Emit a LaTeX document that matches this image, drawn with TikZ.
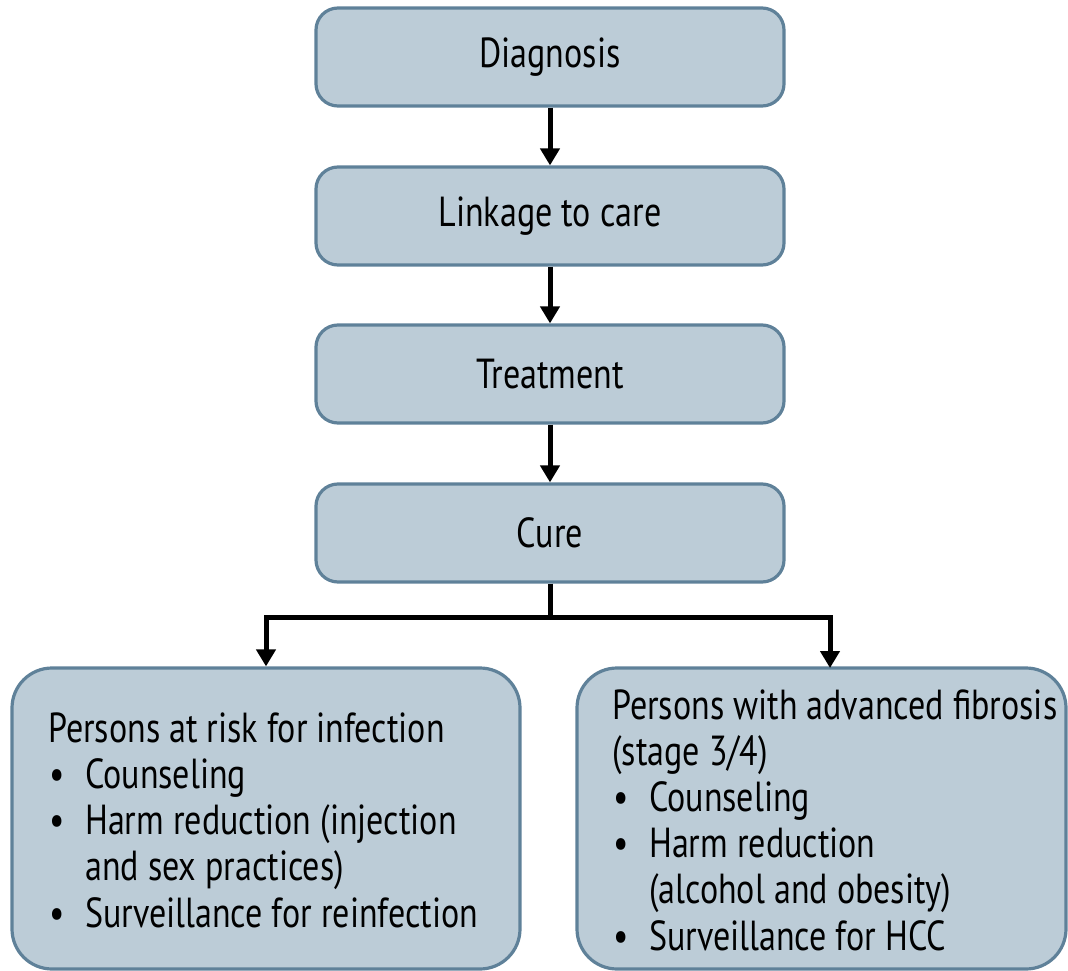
\documentclass[tikz,border=0pt]{standalone}
\usepackage{fontspec}
\setmainfont{PT Sans}[FakeStretch=0.81]
\usetikzlibrary{arrows.meta,calc}
\definecolor{boxfill}{HTML}{BCCCD7}
\definecolor{boxline}{HTML}{5F8199}
\tikzset{
  stepbox/.style={draw=boxline, fill=boxfill, line width=3.2pt, rounded corners=22pt,
    minimum width=468pt, minimum height=98pt, inner sep=0pt,
    font=\fontsize{42}{46}\selectfont},
  bigbox/.style={draw=boxline, fill=boxfill, line width=3.2pt, rounded corners=40pt,
    minimum height=301pt, inner sep=0pt},
  bodytext/.style={align=left, inner sep=0pt, anchor=west,
    font=\fontsize{42}{46.2}\selectfont},
  conn/.style={line width=5pt, black},
  arr/.style={conn, -{Triangle[width=19pt,length=17pt]}},
}
\newcommand{\bul}{\makebox[37pt][l]{\hspace*{1pt}•}}
\newcommand{\ind}{\hspace*{37pt}}
\begin{document}
\begin{tikzpicture}[x=1pt,y=-1pt]
\useasboundingbox (0,0) rectangle (1068,971);
\node[stepbox] (diag) at (550,57) {Diagnosis};
\node[stepbox] (link) at (550,216) {Linkage to care};
\node[stepbox] (treat) at (550,374) {Treatment};
\node[stepbox] (cure) at (550,533) {Cure};
\node[bigbox, minimum width=508pt] (left) at (266,818.5) {};
\node[bigbox, minimum width=489pt] (right) at (821.5,818.5) {};
\node[bodytext] (ltext) at (48,820) {Persons at risk for infection\\
\bul Counseling\\
\bul Harm reduction (injection\\
\ind and sex practices)\\
\bul Surveillance for reinfection};
\node[bodytext] (rtext) at (612,820) {Persons with advanced fibrosis\\
(stage 3/4)\\
\bul Counseling\\
\bul Harm reduction\\
\ind (alcohol and obesity)\\
\bul Surveillance for HCC};
\draw[arr] (diag.south) -- (link.north);
\draw[arr] (link.south) -- (treat.north);
\draw[arr] (treat.south) -- (cure.north);
\coordinate (split) at ($(cure.south)+(0,34)$);
\coordinate (rtop) at (830,668);
\draw[conn] (cure.south) -- (split);
\draw[arr] (split) -| (left.north);
\draw[arr] (split) -| (rtop);
\end{tikzpicture}
\end{document}
